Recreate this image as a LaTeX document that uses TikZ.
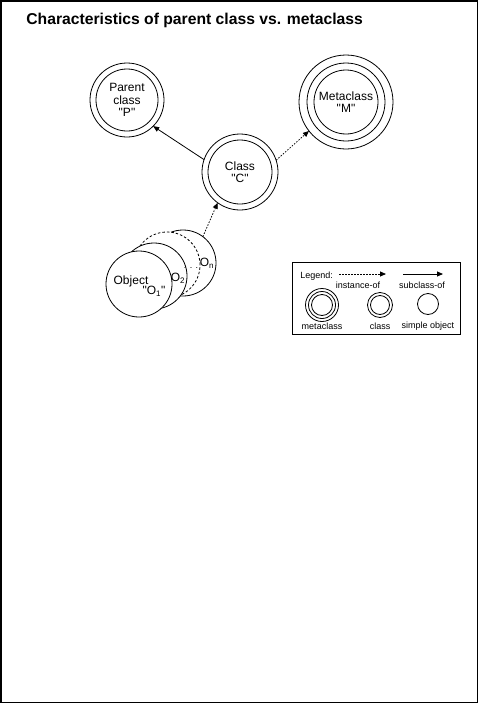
\documentclass[tikz,border=0pt]{standalone}
\usepackage{fontspec}
\setmainfont{Liberation Sans}
\usetikzlibrary{arrows.meta}
\newcommand{\qq}[1]{\textquotedbl#1\textquotedbl}
\begin{document}
\begin{tikzpicture}[x=1pt,y=-1pt,
  line width=0.8pt,
  ring/.style={circle,draw,fill=white,inner sep=0pt,outer sep=0pt,minimum size=#1},
  lbl/.style={font=\fontsize{12}{12.5}\selectfont,align=center,inner sep=0pt},
  small/.style={font=\fontsize{9}{10}\selectfont,inner sep=0pt},
  subarrow/.style={-{Triangle[length=6pt,width=5pt]}},
  instarrow/.style={-{Triangle[length=6pt,width=5pt]},dash pattern=on 1.5pt off 1.5pt},
  dashring/.style={dash pattern=on 2.5pt off 2pt},
]
\useasboundingbox (0,0) rectangle (479,704);
\draw[line width=1.5pt] (0.75,0.75) rectangle (477.5,702.5);

% title
\node[anchor=base west,inner sep=0pt,font=\bfseries\fontsize{15.7}{18}\selectfont] (title) at (26,24) {Characteristics of parent class vs. metaclass};

% parent class
\node[ring=74pt,lbl] (P) at (127,100) {Parent\\class\\\qq{P}};
\draw (P.center) circle (31pt);

% metaclass
\node[ring=94pt,lbl] (M) at (346,102) {Metaclass\\\qq{M}};
\draw (M.center) circle (39pt) circle (32pt);

% class
\node[ring=76pt,lbl] (C) at (240,172) {Class\\\qq{C}};
\draw (C.center) circle (32pt);

% objects (back to front)
\node[ring=66pt] (On) at (183,263) {};
\node[ring=66pt,dashring] (Od) at (167,265) {};
\node[ring=66pt] (O2) at (154,276) {};
\node[ring=66pt] (O1) at (139,284) {};
\node[lbl] (O1a) at (131,281) {Object};
\node[lbl] (O1b) at (154,291) {\qq{O\textsubscript{1}}};
\node[lbl] (O2l) at (178,278) {O\textsubscript{2}};
\node[lbl] (Onl) at (207,263) {O\textsubscript{n}};
\node[small] (dots) at (191,268) {. . .};

% connectors
\draw[subarrow] (C.161) -- (P.-45);
\draw[instarrow] (C.18) -- (M.218);
\draw[instarrow] (On.53) -- (C.234);

% legend
\node[draw,minimum width=168pt,minimum height=72pt,inner sep=0pt,outer sep=0pt] (legend) at (376,298) {};
\node[small,anchor=base west] (legtitle) at (300,278) {Legend:};
\coordinate (i1) at (339,274);
\coordinate (i2) at (386,274);
\draw[instarrow] (i1) -- (i2);
\node[small] (instl) at (358,285) {instance-of};
\coordinate (s1) at (403,274);
\coordinate (s2) at (443,274);
\draw[subarrow] (s1) -- (s2);
\node[small] (subl) at (422,285) {subclass-of};
\node[ring=33pt] (lm) at (322,305) {};
\draw (lm.center) circle (13.5pt) circle (10.5pt);
\node[ring=25pt] (lc) at (380,305) {};
\draw (lc.center) circle (9.5pt);
\node[ring=21pt] (lo) at (428,304) {};
\node[small] (lml) at (322,326) {metaclass};
\node[small] (lcl) at (380,326) {class};
\node[small] (lol) at (428,326) {simple object};
\end{tikzpicture}
\end{document}
